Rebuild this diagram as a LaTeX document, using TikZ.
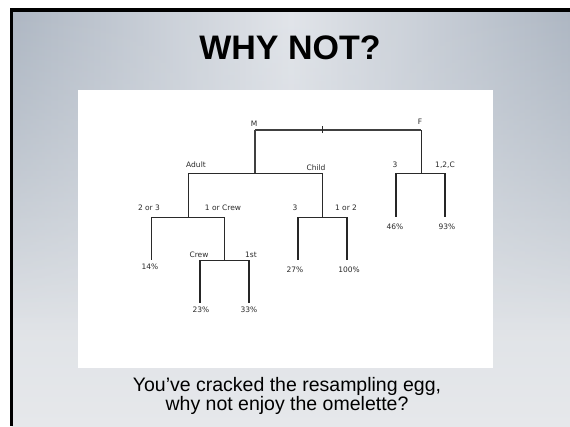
\documentclass[tikz,border=0pt]{standalone}
\usepackage{fontspec}
\setmainfont{Liberation Sans}
\newfontfamily\treefont{DejaVu Sans}
\usetikzlibrary{fadings}
\definecolor{edgegrey}{HTML}{AEB7C3}
\definecolor{centergrey}{HTML}{E2E5EA}
\definecolor{topgrey}{HTML}{CDD3DA}
\definecolor{botgrey}{HTML}{E6E8EB}
\definecolor{treeink}{HTML}{2A2A2A}
\tikzfading[name=fadedown, top color=transparent!0, bottom color=transparent!100]
\tikzset{
  lbl/.style={font=\treefont\fontsize{7.5}{9}\selectfont, text=treeink, inner sep=0pt},
  br/.style={draw=treeink, line width=0.8pt},
  leaf/.style={draw=black!85, line width=1.3pt},
}
\begin{document}
\begin{tikzpicture}[x=1pt,y=-1pt]
\useasboundingbox (0,0) rectangle (570,426);
\fill[white] (0,0) rectangle (570,426);
% slide background
\shade[top color=topgrey, bottom color=botgrey] (11.5,10) rectangle (570,426);
\shade[left color=edgegrey, right color=edgegrey, middle color=centergrey, path fading=fadedown] (11.5,10) rectangle (570,330);
\draw[black, line width=3.5pt] (11.5,426) -- (11.5,10) -- (570,10);
% white panel
\fill[white] (78,90) rectangle (493,368);
% title
\node[font=\bfseries\fontsize{34}{40}\selectfont, anchor=base] (title) at (290,59) {WHY NOT?};
% caption
\node[font=\fontsize{19.5}{23}\selectfont, anchor=base] (cap1) at (287,391) {You’ve cracked the resampling egg,};
\node[font=\fontsize{19.5}{23}\selectfont, anchor=base] (cap2) at (287,410) {why not enjoy the omelette?};
% tree junctions
\coordinate (m) at (255,130);
\coordinate (f) at (421,130);
\coordinate (tick) at (322,130);
\coordinate (mj) at (255,173);
\coordinate (adult) at (188,173);
\coordinate (child) at (322,173);
\coordinate (fj) at (421,173);
\coordinate (f3) at (396,173);
\coordinate (f12c) at (445,173);
\coordinate (f3e) at (396,217);
\coordinate (f12ce) at (445,217);
\coordinate (aj) at (188,217);
\coordinate (a23) at (151,217);
\coordinate (a1c) at (224,217);
\coordinate (a23e) at (151,260);
\coordinate (a1cj) at (224,260);
\coordinate (crew) at (200,260);
\coordinate (first) at (249,260);
\coordinate (crewe) at (200,303);
\coordinate (firste) at (249,303);
\coordinate (cj) at (322,217);
\coordinate (c3) at (298,217);
\coordinate (c12) at (347,217);
\coordinate (c3e) at (298,260);
\coordinate (c12e) at (347,260);
% connectors
\draw[draw=black!75, line width=1.3pt] (m) -- (f);
\draw[draw=black!75, line width=1.3pt] (m) -- (mj);
\draw[br, line width=0.5pt] ([yshift=-3]tick) -- ([yshift=4]tick);
\draw[br] (f) -- (fj);
\draw[br] (adult) -- (child);
\draw[br] (f3) -- (f12c);
\draw[leaf] (f3) -- (f3e);
\draw[leaf] (f12c) -- (f12ce);
\draw[br] (adult) -- (aj);
\draw[br] (child) -- (cj);
\draw[br] (a23) -- (a1c);
\draw[br] (c3) -- (c12);
\draw[br] (a23) -- (a23e);
\draw[br] (a1c) -- (a1cj);
\draw[br] (crew) -- (first);
\draw[leaf] (crew) -- (crewe);
\draw[leaf] (first) -- (firste);
\draw[leaf] (c3) -- (c3e);
\draw[leaf] (c12) -- (c12e);
% labels
\node[lbl] (lm) at (254,124) {M};
\node[lbl] (lf) at (420,122) {F};
\node[lbl] (ladult) at (196,165) {Adult};
\node[lbl] (lchild) at (316,167.5) {Child};
\node[lbl] (lf3) at (395,165) {3};
\node[lbl] (lf12c) at (445,165) {1,2,C};
\node[lbl] (l23) at (149,208) {2 or 3};
\node[lbl] (l1c) at (223,208) {1 or Crew};
\node[lbl] (lc3) at (295,208) {3};
\node[lbl] (lc12) at (346,208) {1 or 2};
\node[lbl] (lcrew) at (199,255) {Crew};
\node[lbl] (lfirst) at (251,255) {1st};
\node[lbl] (p14) at (150,267) {14\%};
\node[lbl] (p27) at (295,270) {27\%};
\node[lbl] (p100) at (349,270) {100\%};
\node[lbl] (p46) at (395,227) {46\%};
\node[lbl] (p93) at (447,227) {93\%};
\node[lbl] (p23) at (201,310) {23\%};
\node[lbl] (p33) at (249,310) {33\%};
\end{tikzpicture}
\end{document}
